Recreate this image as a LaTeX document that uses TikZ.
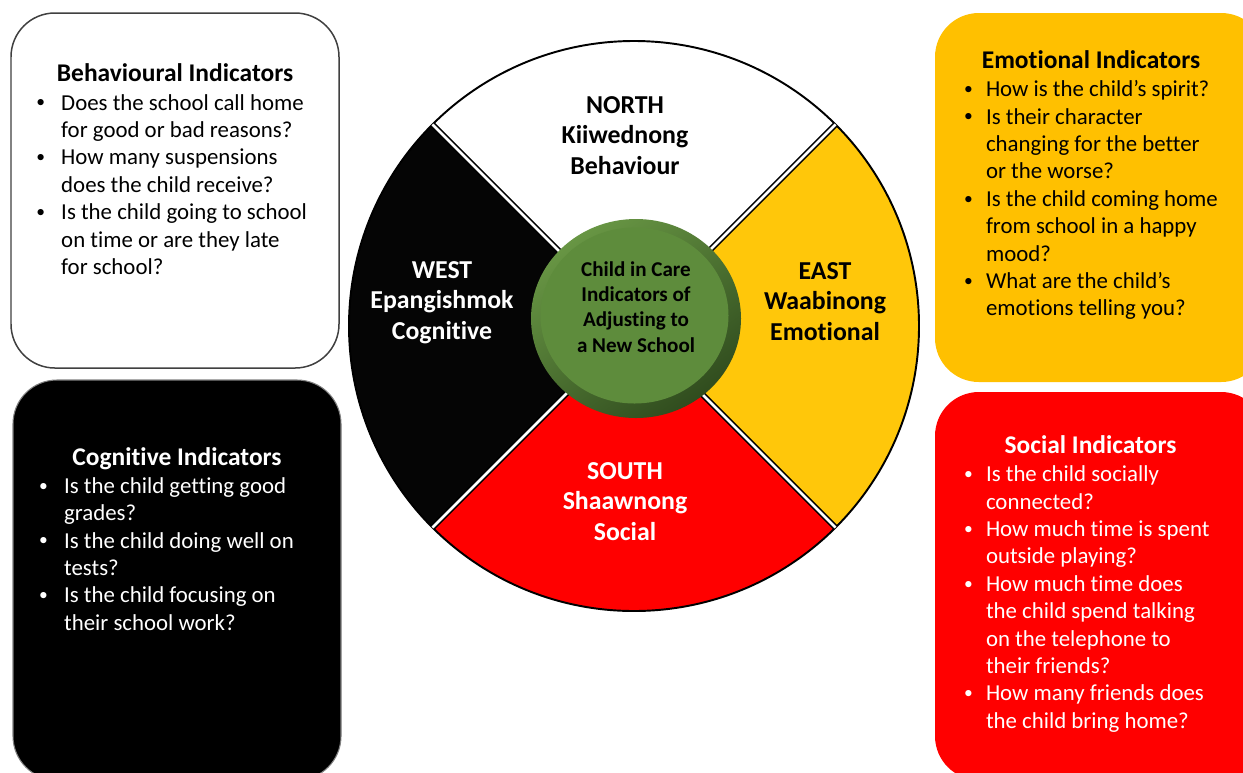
\documentclass[tikz,border=0pt]{standalone}
\usepackage{fontspec}
\setmainfont{Carlito}[Ligatures={TeX,NoCommon}]
\usepackage{tikz}
\usetikzlibrary{positioning}

\definecolor{wheelblack}{RGB}{5,5,5}
\definecolor{wheelyellow}{RGB}{255,199,10}
\definecolor{wheelred}{RGB}{255,0,0}
\definecolor{boxyellow}{RGB}{255,192,0}
\definecolor{boxgray}{RGB}{64,64,64}
\definecolor{hubface}{RGB}{94,140,60}
\definecolor{hublight}{RGB}{104,150,68}
\definecolor{hubdark}{RGB}{48,76,30}

\newcommand{\cstack}[1]{\begin{tabular}[t]{@{}c@{}}#1\end{tabular}}
\newcommand{\qlist}[2]{\begin{tabular}[t]{@{}p{#1}@{}l@{}}#2\end{tabular}}
\newcommand{\bul}{\makebox[12pt][c]{\raisebox{0.1em}{\fontsize{10}{10}\selectfont\textbullet}}}

\begin{document}
\begin{tikzpicture}
[x=0.02cm, y=0.02cm,
quarter/.style={anchor=base, inner sep=0pt, font=\fontsize{14.7}{17.6}\selectfont\bfseries},
ititle/.style={anchor=base, inner sep=0pt, font=\fontsize{14.5}{17}\selectfont\bfseries},
ilist/.style={anchor=base west, inner sep=0pt, font=\fontsize{13}{15.6}\selectfont},
ibox/.style={rounded corners=25pt},
divider/.style={line width=0.9pt, draw=black, double=white, double distance=1.5pt}]
\useasboundingbox (0,0) rectangle (1243,-772);
\clip (0,0) rectangle (1243,-772);
\fill[white] (0,0) rectangle (1243,-772);

% indicator boxes
\draw[ibox, draw=boxgray, line width=0.85pt, fill=white] (11,-13) rectangle (339,-368);
\draw[ibox, draw=gray, line width=0.6pt, fill=black] (13,-380) rectangle (341,-780);
\fill[ibox, boxyellow] (935,-13) rectangle (1265,-382);
\fill[ibox, wheelred] (935,-392) rectangle (1265,-780);

% medicine wheel
\coordinate (wc) at (634,-326);
\foreach \a/\col in {45/white, 135/wheelblack, 225/wheelred, 315/wheelyellow}
  \fill[\col] (wc) -- ++(\a:285) arc[start angle=\a, end angle=\a+90, radius=285] -- cycle;
\draw[line width=1.1pt] (wc) circle[radius=285];
\foreach \a in {45,135,225,315}
  \draw[divider] (wc) -- ++(\a:285);

\shade[top color=hublight, bottom color=hubdark, shading angle=35] (636,-318.5) ellipse[x radius=105, y radius=99.5];
\fill[hubface] (634.5,-315.5) ellipse[x radius=94, y radius=88];
\node[anchor=base, inner sep=0pt, font=\fontsize{12}{14.5}\selectfont\bfseries, text=black] (hub) at (636,-276)
  {\cstack{Child in Care\\Indicators of\\Adjusting to\\a New School}};

\node[quarter] (north) at (625,-113) {\cstack{NORTH\\Kiiwednong\\Behaviour}};
\node[quarter, text=white] (west) at (442,-278) {\cstack{WEST\\Epangishmok\\Cognitive}};
\node[quarter] (east) at (825,-279) {\cstack{EAST\\Waabinong\\Emotional}};
\node[quarter, text=white] (south) at (625,-479) {\cstack{SOUTH\\Shaawnong\\Social}};

% box texts
\node[ititle] (behtitle) at (175,-81) {Behavioural Indicators};
\node[ilist] (behlist) at (29.8,-110) {\qlist{17.7pt}{%
\bul & Does the school call home\\
 & for good or bad reasons?\\
\bul & How many suspensions\\
 & does the child receive?\\
\bul & Is the child going to school\\
 & on time or are they late\\
 & for school?}};

\node[ititle] (emotitle) at (1091,-68) {Emotional Indicators};
\node[ilist] (emolist) at (957.7,-96.7) {\qlist{15.9pt}{%
\bul & How is the child’s spirit?\\
\bul & Is their character\\
 & changing for the better\\
 & or the worse?\\
\bul & Is the child coming home\\
 & from school in a happy\\
 & mood?\\
\bul & What are the child’s\\
 & emotions telling you?}};

\node[ititle, text=white] (cogtitle) at (177,-465) {Cognitive Indicators};
\node[ilist, text=white] (coglist) at (32.7,-493.3) {\qlist{17.7pt}{%
\bul & Is the child getting good\\
 & grades?\\
\bul & Is the child doing well on\\
 & tests?\\
\bul & Is the child focusing on\\
 & their school work?}};

\node[ititle, text=white] (soctitle) at (1090.5,-453) {Social Indicators};
\node[ilist, text=white] (soclist) at (957.7,-481.7) {\qlist{15.9pt}{%
\bul & Is the child socially\\
 & connected?\\
\bul & How much time is spent\\
 & outside playing?\\
\bul & How much time does\\
 & the child spend talking\\
 & on the telephone to\\
 & their friends?\\
\bul & How many friends does\\
 & the child bring home?}};
\end{tikzpicture}
\end{document}
